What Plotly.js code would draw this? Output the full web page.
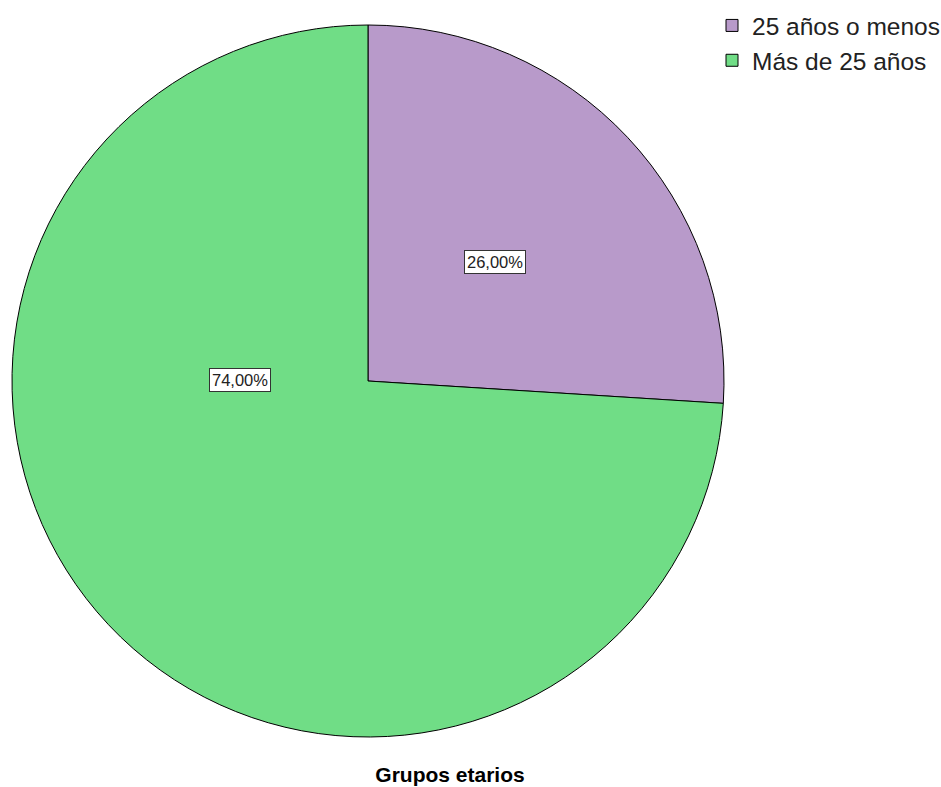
<!DOCTYPE html>
<html>
<head>
<meta charset="utf-8">
<script src="https://cdn.plot.ly/plotly-3.0.1.min.js"></script>
<style>html,body{margin:0;padding:0;background:#fff;}#chart{width:941px;height:787px;}</style>
</head>
<body>
<div id="chart"></div>
<script>
const categories = ["25 años o menos", "Más de 25 años"];
const percentages = [26.0, 74.0];
const sliceColors = ["#B89ACA", "#70DD86"];
const chartTitle = "Grupos etarios";

// pie geometry (paper fractions)
const W = 941, H = 787;
const cx = 368, cy = 381, R = 356;
const domX = [(cx - R) / W, (cx + R) / W];
const domY = [(H - (cy + R)) / H, (H - (cy - R)) / H];

// label placement style: radial fraction and angle offset (deg, from slice start)
const labelStyle = [{ r: 0.49, useMid: true }, { r: 0.36, angleFromStart: 177 }];

const total = percentages.reduce((a, b) => a + b, 0);
let cum = 0;
const annotations = percentages.map((v, i) => {
  const start = cum / total * 360;
  const span = v / total * 360;
  cum += v;
  const ls = labelStyle[i];
  const ang = ls.useMid ? start + span / 2 : start + ls.angleFromStart;
  const rad = ang * Math.PI / 180;
  const px = cx + R * ls.r * Math.sin(rad);
  const py = cy - R * ls.r * Math.cos(rad);
  return {
    x: px / W, y: 1 - py / H, xref: 'paper', yref: 'paper',
    xanchor: 'center', yanchor: 'middle',
    text: v.toFixed(2).replace('.', ',') + '%',
    showarrow: false,
    font: { family: 'Arial, Liberation Sans, sans-serif', size: 16.5, color: '#222' },
    bgcolor: '#ffffff', bordercolor: '#333', borderwidth: 1, borderpad: 2
  };
});

const trace = {
  type: 'pie',
  labels: categories,
  values: percentages,
  sort: false,
  direction: 'clockwise',
  rotation: 0,
  marker: { colors: sliceColors, line: { color: '#000', width: 1 } },
  textinfo: 'none',
  hoverinfo: 'label+percent',
  domain: { x: domX, y: domY }
};

const layout = {
  width: W, height: H,
  margin: { l: 0, r: 0, t: 0, b: 0, autoexpand: false },
  paper_bgcolor: '#fff',
  showlegend: true,
  legend: {
    x: 712 / W, y: 1 - 3 / H, xanchor: 'left', yanchor: 'top',
    font: { family: 'Arial, Liberation Sans, sans-serif', size: 24.5, color: '#222' },
    traceorder: 'normal', itemwidth: 30, tracegroupgap: 0,
    bgcolor: 'rgba(0,0,0,0)'
  },
  title: {
    text: '<b>' + chartTitle + '</b>',
    x: 450 / W, xanchor: 'center', y: 1 - 775 / H, yanchor: 'middle',
    font: { family: 'Arial, Liberation Sans, sans-serif', size: 21, color: '#000' }
  },
  annotations: annotations
};

Plotly.newPlot('chart', [trace], layout, { staticPlot: true });
</script>
</body>
</html>
